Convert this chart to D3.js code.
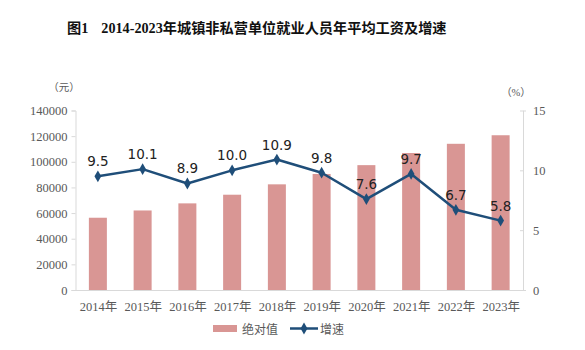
<!DOCTYPE html>
<html>
<head>
<meta charset="utf-8">
<script src="https://cdn.jsdelivr.net/npm/d3@7"></script>
<style>
  html, body { margin: 0; padding: 0; background: #fff; }
  svg { display: block; }
</style>
</head>
<body>
<svg id="chart" width="585" height="350"></svg>
<script>
const categories = ["2014年","2015年","2016年","2017年","2018年","2019年","2020年","2021年","2022年","2023年"];
const wages = [56360, 62029, 67569, 74318, 82413, 90501, 97379, 106837, 114029, 120698];
const growth = [9.5, 10.1, 8.9, 10.0, 10.9, 9.8, 7.6, 9.7, 6.7, 5.8];
const leftTicks = [0, 20000, 40000, 60000, 80000, 100000, 120000, 140000];
const rightTicks = [0, 5, 10, 15];

const svg = d3.select("#chart");
const plotLeft = 75.5, plotRight = 523, plotTop = 110.5, plotBottom = 290;
const serif = "'Liberation Serif', 'Times New Roman', 'Noto Sans CJK SC', serif";
const sans = "'DejaVu Sans', 'Noto Sans CJK SC', sans-serif";
const axisColor = "#d9d9d9";
const textColor = "#595959";

const xc = d3.scalePoint().domain(categories).range([plotLeft, plotRight]).padding(0.5);
const yL = d3.scaleLinear().domain([0, 140000]).range([plotBottom, plotTop]);
const yR = d3.scaleLinear().domain([0, 15]).range([plotBottom, plotTop]);

// Title
const title = svg.append("text")
  .attr("x", 67).attr("y", 33)
  .attr("font-family", serif)
  .attr("font-weight", "bold")
  .attr("font-size", 14.2)
  .attr("fill", "#111");
title.append("tspan").text("图1");
title.append("tspan").attr("dx", 13).text("2014-2023年城镇非私营单位就业人员年平均工资及增速");

// Left axis
const gL = svg.append("g").attr("transform", `translate(${plotLeft},0)`)
  .call(d3.axisLeft(yL).tickValues(leftTicks).tickSize(4).tickPadding(4).tickFormat(d3.format("d")));
gL.select(".domain").attr("stroke", axisColor);
gL.selectAll(".tick line").attr("stroke", axisColor);
gL.selectAll(".tick text").attr("font-family", serif).attr("font-size", 12.5).attr("fill", textColor);

// Right axis
const gR = svg.append("g").attr("transform", `translate(${plotRight},0)`)
  .call(d3.axisRight(yR).tickValues(rightTicks).tickSize(3).tickPadding(7));
gR.select(".domain").attr("stroke", axisColor);
gR.selectAll(".tick line").attr("stroke", axisColor).attr("x1", -3).attr("x2", 1);
gR.selectAll(".tick text").attr("font-family", serif).attr("font-size", 12.5).attr("fill", textColor);

// Bottom axis
const gB = svg.append("g").attr("transform", `translate(0,${plotBottom})`)
  .call(d3.axisBottom(xc).tickSize(0).tickPadding(12));
gB.select(".domain").attr("stroke", axisColor);
gB.selectAll(".tick text").attr("font-family", serif).attr("font-size", 12.5).attr("fill", textColor);

// Units
svg.append("text").attr("x", 64).attr("y", 91).attr("text-anchor", "middle")
  .attr("font-family", serif).attr("font-size", 10.5).attr("fill", textColor).text("（元）");
svg.append("text").attr("x", 516).attr("y", 96).attr("text-anchor", "middle")
  .attr("font-family", serif).attr("font-size", 10.5).attr("fill", textColor).text("（%）");

// Bars
const barColor = "#d99694";
const bw = 18;
svg.append("g").selectAll("rect").data(wages).join("rect")
  .attr("x", (d, i) => xc(categories[i]) - bw / 2)
  .attr("width", bw)
  .attr("y", d => yL(d))
  .attr("height", d => plotBottom - yL(d))
  .attr("fill", barColor);

// Line
const lineColor = "#1f4e79";
const line = d3.line().x((d, i) => xc(categories[i])).y(d => yR(d));
svg.append("path").datum(growth).attr("d", line)
  .attr("fill", "none").attr("stroke", lineColor).attr("stroke-width", 2.5).attr("stroke-linejoin", "round");

const diamond = d3.symbol().type(d3.symbolDiamond).size(40);
svg.append("g").selectAll("path").data(growth).join("path")
  .attr("d", diamond)
  .attr("transform", (d, i) => `translate(${xc(categories[i])},${yR(d)})`)
  .attr("fill", lineColor);

// Labels
svg.append("g").selectAll("text").data(growth).join("text")
  .attr("x", (d, i) => xc(categories[i]))
  .attr("y", d => yR(d) - 10)
  .attr("text-anchor", "middle")
  .attr("font-family", sans)
  .attr("font-size", 13.5)
  .attr("fill", "#222")
  .text(d => d.toFixed(1));

// Legend
const lg = svg.append("g");
lg.append("rect").attr("x", 213).attr("y", 325).attr("width", 24).attr("height", 7).attr("fill", barColor);
lg.append("text").attr("x", 242).attr("y", 334).attr("font-family", sans).attr("font-size", 12)
  .attr("fill", textColor).text("绝对值");
lg.append("line").attr("x1", 290).attr("x2", 318).attr("y1", 328.5).attr("y2", 328.5)
  .attr("stroke", lineColor).attr("stroke-width", 2.5);
lg.append("path").attr("d", diamond).attr("transform", "translate(304,328.5)").attr("fill", lineColor);
lg.append("text").attr("x", 320).attr("y", 334).attr("font-family", sans).attr("font-size", 12)
  .attr("fill", textColor).text("增速");
</script>
</body>
</html>
